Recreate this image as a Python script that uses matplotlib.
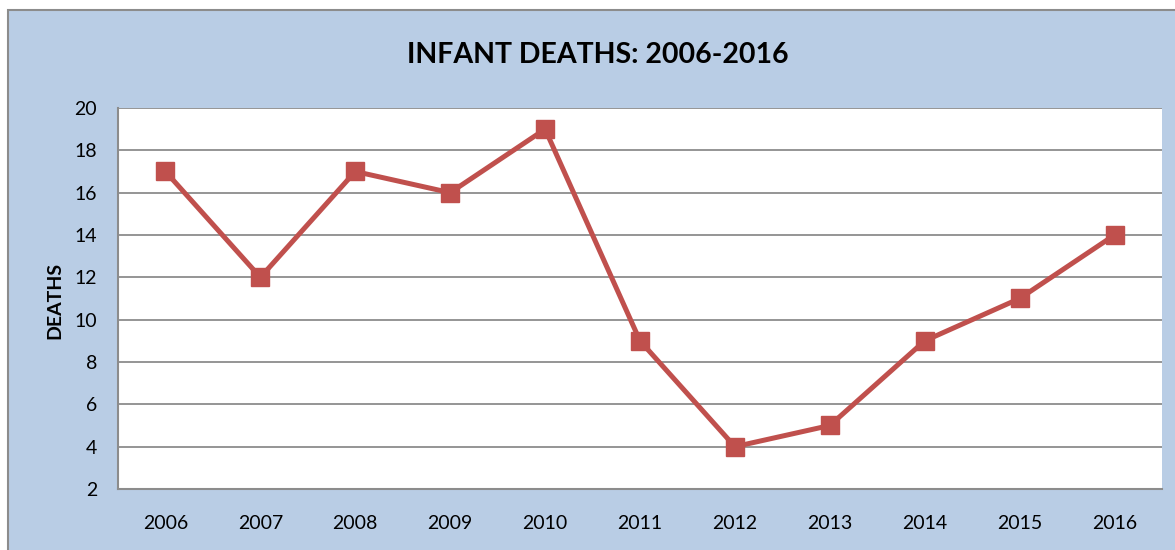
import matplotlib
matplotlib.use("Agg")
import matplotlib.pyplot as plt
from matplotlib.patches import Rectangle

years = ["2006", "2007", "2008", "2009", "2010", "2011", "2012", "2013", "2014", "2015", "2016"]
deaths = [17, 12, 17, 16, 19, 9, 4, 5, 9, 11, 14]
y_ticks = [2, 4, 6, 8, 10, 12, 14, 16, 18, 20]

plt.rcParams['font.family'] = ['Lato', 'DejaVu Sans']

W, H = 1175, 550
fig = plt.figure(figsize=(W / 100, H / 100), dpi=100, facecolor='white')

bg = Rectangle((8 / W, -0.1), 1.2, 1 - 10 / H + 0.1, transform=fig.transFigure,
               facecolor='#B9CDE5', edgecolor='#8C8C8C', linewidth=1.5, zorder=-10)
fig.patches.append(bg)

ax = fig.add_axes([118 / W, 1 - 489 / H, (1162 - 118) / W, (489 - 108) / H])
ax.set_zorder(5)
ax.set_facecolor('white')
x = list(range(len(years)))
ax.plot(x, deaths, color='#C0504D', linewidth=3.6, marker='s', markersize=12.5,
        markerfacecolor='#C0504D', markeredgecolor='#C0504D', zorder=3, clip_on=False)

ax.set_xlim(-0.5, len(years) - 0.5)
ax.set_ylim(2, 20)
ax.set_yticks(y_ticks)
ax.set_yticklabels([str(v) for v in y_ticks], fontsize=14)
ax.set_xticks(x)
ax.set_xticklabels(years, fontsize=14)
ax.tick_params(axis='both', length=0, colors='black')
ax.tick_params(axis='y', pad=15)
ax.tick_params(axis='x', pad=19)
ax.grid(axis='y', color='#8C8C8C', linewidth=1.3)
ax.set_axisbelow(True)
for s in ['top', 'right']:
    ax.spines[s].set_visible(False)
for s in ['left', 'bottom']:
    ax.spines[s].set_color('#8C8C8C')
    ax.spines[s].set_linewidth(1.5)

fig.text(55 / W, 1 - 300 / H, 'DEATHS', rotation=90, fontsize=14, fontweight='bold',
         ha='center', va='center')
fig.text(598 / W, 1 - 55 / H, 'INFANT DEATHS: 2006-2016', fontsize=20.5, fontweight='bold',
         ha='center', va='center')

fig.savefig('out.png', dpi=100, facecolor='white')
